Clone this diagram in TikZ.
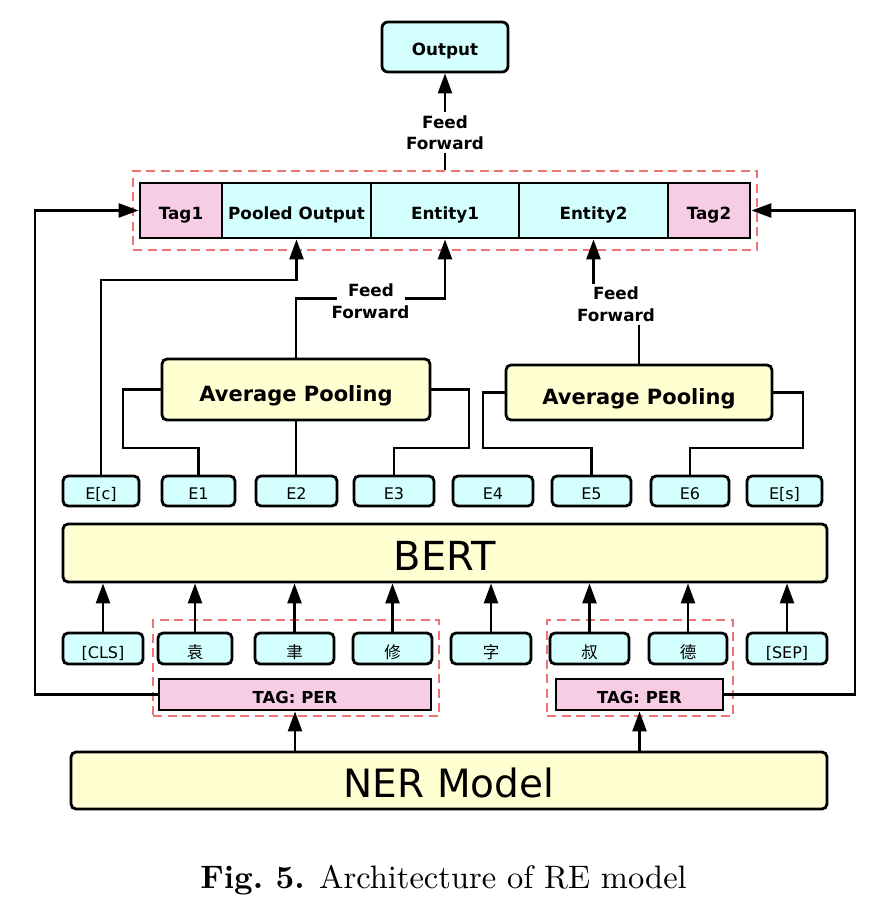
\documentclass[tikz,border=0pt]{standalone}
\usepackage{graphicx}
\usepackage{fontspec}
\newfontfamily\zzdv{DejaVu Sans}
\newfontfamily\zzcjk{Noto Sans CJK SC}
\usetikzlibrary{arrows.meta}
\definecolor{cyanf}{HTML}{D4FFFF}
\definecolor{yelf}{HTML}{FFFFD2}
\definecolor{pinkf}{HTML}{F7CDE5}
\definecolor{dashred}{HTML}{F07373}
\newcommand{\zzlbl}{\zzdv\bfseries\fontsize{16.8}{21.7}\selectfont}
\newcommand{\zzap}{\zzdv\bfseries\fontsize{21}{25}\selectfont}
\newcommand{\zzsm}{\zzdv\fontsize{16}{19}\selectfont}
\newcommand{\zztag}{\zzdv\bfseries\fontsize{16.5}{20}\selectfont}
\newcommand{\zzbig}{\zzdv\fontsize{40}{46}\selectfont}
\newcommand{\zzch}[1]{{\zzcjk\fontsize{16.5}{19}\selectfont #1}}
\begin{document}
\begin{tikzpicture}[x=1pt,y=-1pt,
  box/.style={draw, line width=2.8pt, inner sep=0pt, rounded corners=5pt},
  cell/.style={draw, line width=2.8pt, inner sep=0pt},
  conn/.style={line width=2.4pt},
  arr/.style={conn, -{Triangle[length=20pt,width=14pt]}},
  dbox/.style={draw=dashred, line width=2.6pt, dash pattern=on 9pt off 5.5pt, inner sep=0pt},
  ebox/.style={box, fill=cyanf, minimum height=30pt, text height=17.8pt, text depth=0pt, font=\zzsm},
  tbox/.style={box, fill=cyanf, minimum height=31pt, text height=19pt, text depth=0pt, font=\zzsm},
  bar/.style={cell, minimum height=55pt, text height=17.6pt, text depth=0pt, font=\zzlbl},
  ffl/.style={fill=white, align=center, font=\zzlbl, inner xsep=3pt, inner ysep=3pt}
]
\useasboundingbox (0,0) rectangle (882,912);

% dashed groups
\node[dbox, minimum width=624pt, minimum height=79pt] (dtop) at (445,210.5) {};
\node[dbox, minimum width=286pt, minimum height=96pt] (dL) at (296,668) {};
\node[dbox, minimum width=186pt, minimum height=96pt] (dR) at (640,668) {};

% output
\node[box, fill=cyanf, rounded corners=6pt, minimum width=126pt, minimum height=50pt, text height=17.4pt, text depth=0pt, font=\zzlbl] (out) at (445,47) {Output};

% concatenated bar
\node[bar, fill=pinkf, minimum width=82pt] (tag1) at (181,210.5) {Tag1};
\node[bar, fill=cyanf, minimum width=149pt] (pooled) at (296.5,210.5) {Pooled Output};
\node[bar, fill=cyanf, minimum width=148pt] (ent1) at (445,210.5) {Entity1};
\node[bar, fill=cyanf, minimum width=149pt] (ent2) at (593.5,210.5) {Entity2};
\node[bar, fill=pinkf, minimum width=82pt] (tag2) at (709,210.5) {Tag2};

% average pooling
\node[box, fill=yelf, minimum width=268pt, minimum height=61pt, text height=23pt, text depth=0pt, font=\zzap] (ap1) at (296,389.5) {Average Pooling};
\node[box, fill=yelf, minimum width=266pt, minimum height=55pt, text height=23pt, text depth=0pt, font=\zzap] (ap2) at (639,392.5) {Average Pooling};

% BERT outputs
\node[ebox, minimum width=76pt] (Ec) at (101,491) {E[c]};
\node[ebox, minimum width=73pt] (E1) at (198.5,491) {E1};
\node[ebox, minimum width=81pt] (E2) at (296.5,491) {E2};
\node[ebox, minimum width=80pt] (E3) at (394,491) {E3};
\node[ebox, minimum width=80pt] (E4) at (493,491) {E4};
\node[ebox, minimum width=79pt] (E5) at (591.5,491) {E5};
\node[ebox, minimum width=78pt] (E6) at (690,491) {E6};
\node[ebox, minimum width=75pt] (Es) at (784.5,491) {E[s]};

% BERT
\node[box, fill=yelf, minimum width=764pt, minimum height=58pt, text height=35.4pt, text depth=0pt, font=\zzbig] (bert) at (445,553) {BERT};

% tokens
\node[tbox, minimum width=80pt] (cls) at (103,648.5) {[CLS]};
\node[tbox, minimum width=74pt] (t1) at (195,648.5) {\zzch{袁}};
\node[tbox, minimum width=79pt] (t2) at (294.5,648.5) {\zzch{聿}};
\node[tbox, minimum width=79pt] (t3) at (392.5,648.5) {\zzch{修}};
\node[tbox, minimum width=80pt] (t4) at (491,648.5) {\zzch{字}};
\node[tbox, minimum width=79pt] (t5) at (589.5,648.5) {\zzch{叔}};
\node[tbox, minimum width=78pt] (t6) at (688,648.5) {\zzch{德}};
\node[tbox, minimum width=80pt] (sep) at (787,648.5) {[SEP]};

% tags
\node[cell, fill=pinkf, minimum width=272pt, minimum height=31pt, text height=17.6pt, text depth=0pt, font=\zztag] (tagL) at (295,694.5) {TAG: PER};
\node[cell, fill=pinkf, minimum width=167pt, minimum height=31pt, text height=17.6pt, text depth=0pt, font=\zztag] (tagR) at (639.5,694.5) {TAG: PER};

% NER
\node[box, fill=yelf, minimum width=756pt, minimum height=57pt, text height=33.6pt, text depth=0pt, font=\zzdv\fontsize{39}{45}\selectfont] (ner) at (449,780.5) {NER Model};

% connectors: tokens to BERT
\foreach \t in {cls,t1,t2,t3,t4,t5,t6,sep}
  \draw[arr] (\t.north) -- (\t.north |- bert.south);

% NER to tags
\draw[arr] (ner.north -| tagL.south) -- (tagL.south);
\draw[arr] (ner.north -| tagR.south) -- (tagR.south);

% tag loops
\draw[arr] (tagL.west) -| (35,210.5) -- (tag1.west);
\draw[arr] (tagR.east) -| (855,210.5) -- (tag2.east);

% E to average pooling
\draw[conn] (ap1.west) -| (123,448) -| (E1.north);
\draw[conn] (ap1.south) -- (ap1.south |- E2.north);
\draw[conn] (ap1.east) -| (469,448) -| (E3.north);
\draw[conn] (ap2.west) -| (483,448) -| (E5.north);
\draw[conn] (ap2.east) -| (803,448) -| (E6.north);

% to bar
\draw[arr] (Ec.north) |- (296.5,280) -- (pooled.south);
\draw[arr] (ap1.north) |- (445,298.3) -- (ent1.south);
\node[fill=white, font=\zzlbl, inner xsep=11.5pt, inner ysep=3.5pt] (ff1a) at (371,290.3) {Feed};
\node[font=\zzlbl, inner sep=0pt] (ff1b) at (370.5,311.9) {Forward};

\draw[arr] (ap2.north) -- (639,304) -- (593.5,304) -- (ent2.south);
\node[ffl] (ff2) at (616,304.5) {Feed\\Forward};

% to output
\draw[arr] (dtop.north -| out.south) -- (out.south);
\node[ffl] (ff3) at (445,132.8) {Feed\\Forward};

% caption
\node[anchor=base, inner sep=0pt] (cap) at (443.5,888) {\scalebox{3.25}{\fontsize{10}{12}\selectfont\textbf{Fig.\ 5.} Architecture of RE model}};
\end{tikzpicture}
\end{document}
